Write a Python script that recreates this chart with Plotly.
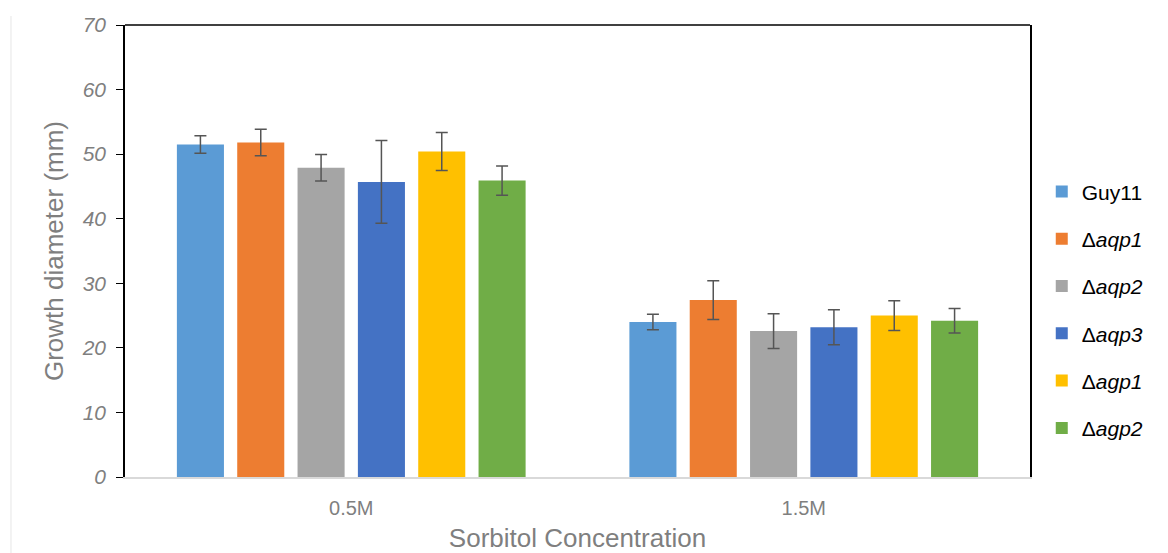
import plotly.graph_objects as go

# Sorbitol concentrations on the x axis
concentrations = ["0.5M", "1.5M"]

# Strain labels (HTML for italic gene names)
strains = ["Guy11", "Δ<i>aqp1</i>", "Δ<i>aqp2</i>", "Δ<i>aqp3</i>", "Δ<i>agp1</i>", "Δ<i>agp2</i>"]

# Mean growth diameter (mm) per strain, [0.5M, 1.5M]
guy11 = [51.5, 24.0]
aqp1 = [51.8, 27.4]
aqp2 = [47.9, 22.6]
aqp3 = [45.7, 23.2]
agp1 = [50.4, 25.0]
agp2 = [45.9, 24.2]

# Standard deviations
guy11_err = [1.35, 1.2]
aqp1_err = [2.05, 3.0]
aqp2_err = [2.05, 2.7]
aqp3_err = [6.4, 2.7]
agp1_err = [2.95, 2.3]
agp2_err = [2.25, 1.9]

colors = ["#5B9BD5", "#ED7D31", "#A5A5A5", "#4472C4", "#FFC000", "#70AD47"]

means = [guy11, aqp1, aqp2, aqp3, agp1, agp2]
errors = [guy11_err, aqp1_err, aqp2_err, aqp3_err, agp1_err, agp2_err]

fig = go.Figure()
for i, (name, m, e, c) in enumerate(zip(strains, means, errors, colors)):
    fig.add_trace(go.Bar(
        x=concentrations, y=m, name=name,
        marker=dict(color=c, line=dict(width=0)),
        error_y=dict(type="data", array=e, visible=True,
                     color="#555555", thickness=1.5, width=6),
        legendgroup=f"g{i}",
    ))

FONT = "Liberation Sans, Arial, sans-serif"
GRAY = "#7F7F7F"

fig.update_layout(
    width=1168, height=553,
    margin=dict(l=125, r=138, t=25, b=76),
    paper_bgcolor="white", plot_bgcolor="white",
    barmode="group", bargap=0.2, bargroupgap=0.22,
    showlegend=True,
    legend=dict(
        x=1.013, y=0.37, xanchor="left", yanchor="middle",
        font=dict(family=FONT, size=21, color="black"),
        tracegroupgap=17, itemwidth=30,
        traceorder="grouped",
    ),
    xaxis=dict(
        automargin=False,
        showline=True, linecolor="#D9D9D9", linewidth=1.5,
        ticks="", ticklabelstandoff=12,
        tickfont=dict(family=FONT, size=20, color=GRAY),
        title=dict(text="Sorbitol Concentration", font=dict(family=FONT, size=26, color=GRAY), standoff=15),
        showgrid=False,
    ),
    yaxis=dict(
        automargin=False,
        range=[0, 70], dtick=10,
        showline=True, linecolor="black", linewidth=1.5, mirror=True,
        ticks="outside", ticklen=7, tickcolor="black", ticklabelstandoff=6,
        tickfont=dict(family=FONT, size=21, color=GRAY, style="italic"),
        title=dict(text="Growth diameter (mm)", font=dict(family=FONT, size=26, color=GRAY), standoff=11),
        showgrid=False, zeroline=False,
    ),
    shapes=[
        dict(type="line", xref="paper", yref="paper", x0=0, x1=1, y0=1, y1=1,
             line=dict(color="black", width=1.5)),
        dict(type="line", xref="paper", yref="paper", x0=-0.126, x1=-0.126, y0=-0.2, y1=1.02,
             line=dict(color="#E6E6E6", width=1)),
    ],
)

fig.write_html("out.html")
